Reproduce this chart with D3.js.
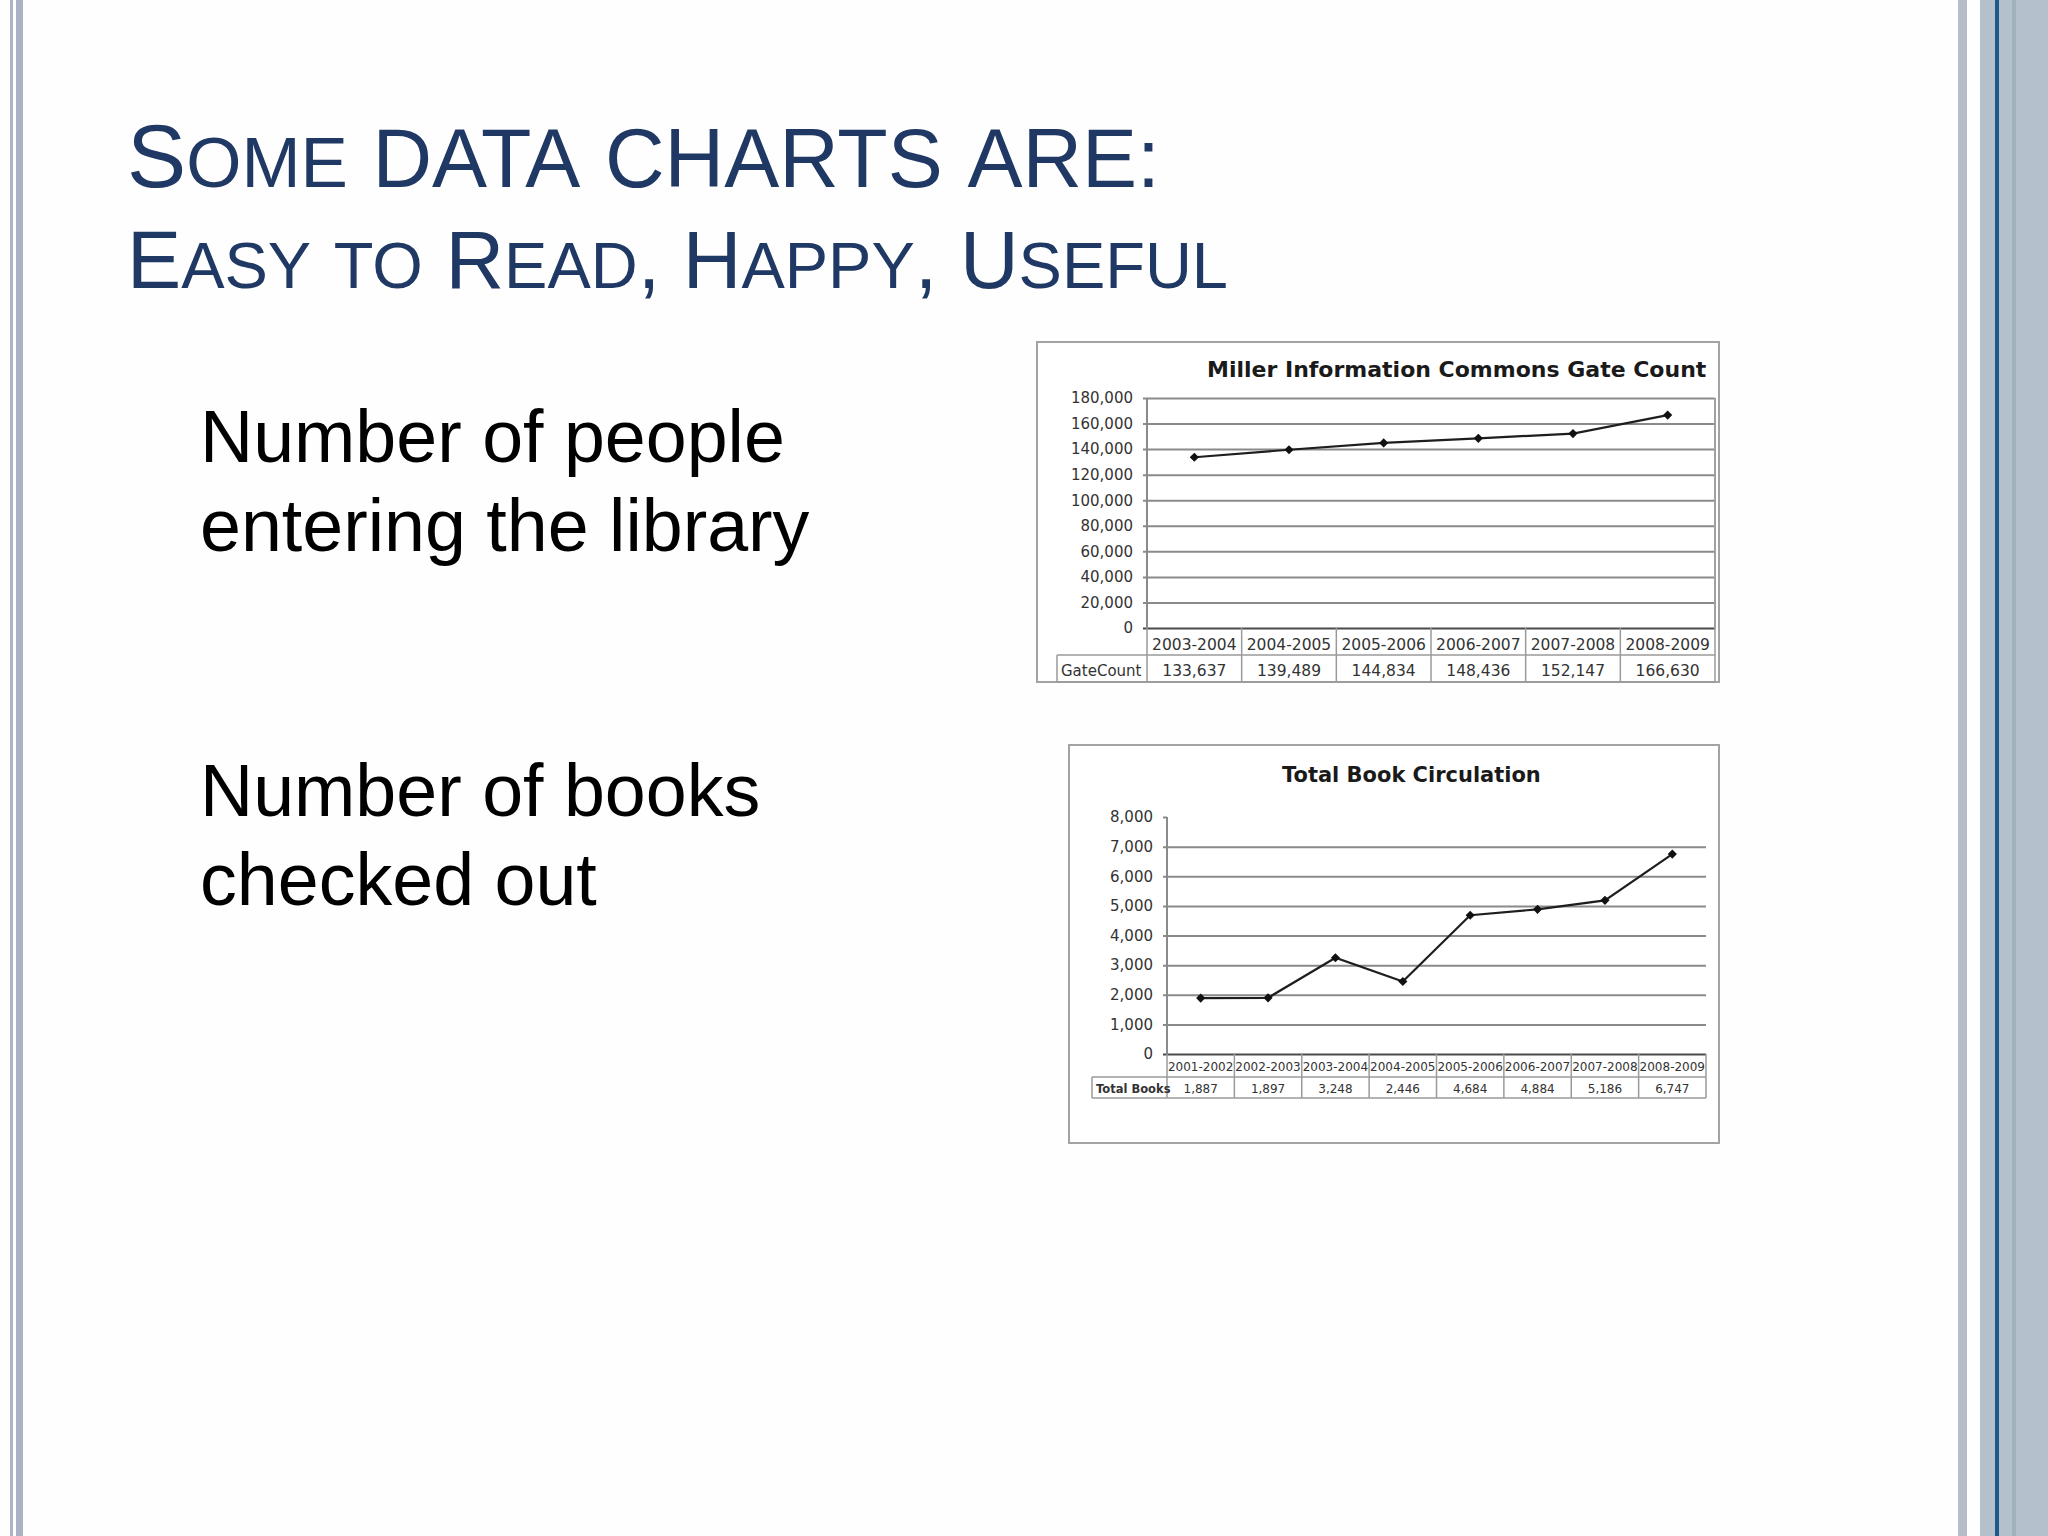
<!DOCTYPE html>
<html>
<head>
<meta charset="utf-8">
<script src="https://cdn.jsdelivr.net/npm/d3@7"></script>
<style>
  html, body { margin: 0; padding: 0; background: #fff; }
  svg { display: block; }
</style>
</head>
<body>
<div id="slide"></div>
<script>
// ---- slide text ----
const titleLines = ["Some DATA CHARTS ARE:", "Easy to Read, Happy, Useful"];
const bodyLines = ["Number of people", "entering the library", "Number of books", "checked out"];

// ---- chart 1: gate count ----
const gateTitle = "Miller Information Commons Gate Count";
const gateRowLabel = "GateCount";
const gateYears = ["2003-2004", "2004-2005", "2005-2006", "2006-2007", "2007-2008", "2008-2009"];
const gateCounts = [133637, 139489, 144834, 148436, 152147, 166630];
const gateTicks = [0, 20000, 40000, 60000, 80000, 100000, 120000, 140000, 160000, 180000];

// ---- chart 2: book circulation ----
const circTitle = "Total Book Circulation";
const circRowLabel = "Total Books";
const circYears = ["2001-2002", "2002-2003", "2003-2004", "2004-2005", "2005-2006", "2006-2007", "2007-2008", "2008-2009"];
const circCounts = [1887, 1897, 3248, 2446, 4684, 4884, 5186, 6747];
const circTicks = [0, 1000, 2000, 3000, 4000, 5000, 6000, 7000, 8000];

const W = 2048, H = 1536;

const svg = d3.select("#slide")
    .append("svg")
    .attr("width", W)
    .attr("height", H)
;

svg.append("rect")
    .attr("width", W)
    .attr("height", H)
    .attr("fill", "#fefefe");

// side stripes of the slide theme
const stripes = [
    {x: 10, w: 3, c: "#adb3c5"},
    {x: 16, w: 7, c: "#a9b1c3"},
    {x: 1958, w: 9, c: "#b7bdc8"},
    {x: 1980, w: 68, c: "#b4c1cd"},
    {x: 1995, w: 4, c: "#1f5a8c"},
    {x: 2012, w: 4, c: "#9fb1bc"}
];
svg.selectAll(".stripe")
    .data(stripes)
    .enter()
    .append("rect")
    .attr("class", "stripe")
    .attr("x", d => d.x)
    .attr("y", 0)
    .attr("width", d => d.w)
    .attr("height", H)
    .attr("fill", d => d.c);

// scale a text element so its width hits a target
function fitWidth(text, width) {
    const w = text.node().getBBox().width;
    const size = parseFloat(text.attr("font-size"));
    text.attr("font-size", size * width / w);
}

// ---- title, small caps built from tspans ----
const titleLayout = [
    {baseline: 187, width: 1033},
    {baseline: 288, width: 1101}
];
titleLines.forEach((line, i) => {
    // lowercase letters shrink (small caps); words typed in all caps sit a bit lower than initials
    const runs = [];
    line.split(/(\s+)/).forEach(word => {
        const allCaps = /[A-Z]{2,}/.test(word) && word === word.toUpperCase();
        for (const ch of word) {
            let size = ch === ch.toUpperCase() ? 1 : 0.8;
            if (allCaps) size = 0.93;
            const last = runs[runs.length - 1];
            if (last && last.size === size) last.text += ch;
            else runs.push({size: size, text: ch});
        }
    });
    const t = svg.append("text")
        .attr("x", 127)
        .attr("y", titleLayout[i].baseline)
        .attr("font-family", "Liberation Sans, Arial, sans-serif")
        .attr("font-size", 88)
        .attr("fill", "#1f3864")
        .style("white-space", "pre");
    t.selectAll("tspan")
        .data(runs)
        .enter()
        .append("tspan")
        .style("font-size", d => d.size + "em")
        .text(d => d.text.toUpperCase());
    fitWidth(t, titleLayout[i].width);
});

// ---- body text ----
const bodyBaselines = [462, 551, 816, 905];
const body = svg.selectAll(".body-text")
    .data(bodyLines)
    .enter()
    .append("text")
    .attr("class", "body-text")
    .attr("x", 200)
    .attr("y", (d, i) => bodyBaselines[i])
    .attr("font-family", "Liberation Sans, Arial, sans-serif")
    .attr("font-size", 74)
    .attr("fill", "#000")
    .text(d => d);
fitWidth(body.filter((d, i) => i === 0), 585);
body.attr("font-size", body.filter((d, i) => i === 0).attr("font-size"));

// ---- charts ----
function drawChart(cfg) {
    const p = cfg.plot;
    const g = svg.append("g").attr("class", cfg.id);
    const font = "DejaVu Sans, Verdana, sans-serif";
    const gridColor = "#8a8a8a";
    const labelColor = "#333";

    const x = d3.scaleBand()
        .domain(cfg.categories)
        .range([p.left, p.right]);
    const y = d3.scaleLinear()
        .domain([0, d3.max(cfg.ticks)])
        .range([p.bottom, p.top]);

    // picture frame
    g.append("rect")
        .attr("x", cfg.frame.left)
        .attr("y", cfg.frame.top)
        .attr("width", cfg.frame.right - cfg.frame.left)
        .attr("height", cfg.frame.bottom - cfg.frame.top)
        .attr("fill", "#fff")
        .attr("stroke", "#a3a3a3")
        .attr("stroke-width", 2);

    const title = g.append("text")
        .attr("x", cfg.titleX)
        .attr("y", cfg.titleY)
        .attr("font-family", font)
        .attr("font-weight", "bold")
        .attr("font-size", 20)
        .attr("fill", "#1a1a1a")
        .text(cfg.title);
    fitWidth(title, cfg.titleWidth);

    // y axis: gridlines reach a few px left of the axis like tick marks
    const out = 4;
    const yAxis = g.append("g")
        .attr("transform", `translate(${p.left - out}, 0)`)
        .call(d3.axisLeft(y)
            .tickValues(cfg.ticks)
            .tickFormat(d3.format(","))
            .tickSize(-(p.right - p.left + out))
            .tickPadding(10));
    yAxis.select(".domain").remove();
    yAxis.selectAll(".tick line")
        .attr("stroke", d => d === 0 ? "#4a4a4a" : gridColor)
        .attr("stroke-width", 2)
        .attr("x2", d => (d === d3.max(cfg.ticks) && !cfg.plotBorder) ? out : p.right - p.left + out);
    yAxis.selectAll(".tick text")
        .attr("font-family", font)
        .attr("font-size", cfg.yFont)
        .attr("fill", labelColor);

    // vertical axis line
    g.append("line")
        .attr("x1", p.left).attr("x2", p.left)
        .attr("y1", p.top).attr("y2", p.bottom)
        .attr("stroke", gridColor)
        .attr("stroke-width", 2);

    if (cfg.plotBorder) {
        g.append("line")
            .attr("x1", p.right).attr("x2", p.right)
            .attr("y1", p.top).attr("y2", p.bottom)
            .attr("stroke", "#a0a0a0")
            .attr("stroke-width", 2);
    }

    // data table under the plot
    const t = cfg.table;
    const bounds = cfg.categories.map(d => x(d)).concat([p.right]);
    g.selectAll(".sep")
        .data(bounds)
        .enter()
        .append("line")
        .attr("x1", d => d).attr("x2", d => d)
        .attr("y1", p.bottom).attr("y2", t.bottom)
        .attr("stroke", "#9a9a9a")
        .attr("stroke-width", 1.5);
    [t.top, t.bottom].forEach(yy => {
        g.append("line")
            .attr("x1", t.left).attr("x2", p.right)
            .attr("y1", yy).attr("y2", yy)
            .attr("stroke", "#9a9a9a")
            .attr("stroke-width", 1.5);
    });
    g.append("line")
        .attr("x1", t.left).attr("x2", t.left)
        .attr("y1", t.top).attr("y2", t.bottom)
        .attr("stroke", "#9a9a9a")
        .attr("stroke-width", 1.5);

    g.selectAll(".cat-label")
        .data(cfg.categories)
        .enter()
        .append("text")
        .attr("x", d => x(d) + x.bandwidth() / 2)
        .attr("y", cfg.catBaseline)
        .attr("text-anchor", "middle")
        .attr("font-family", font)
        .attr("font-size", cfg.catFont)
        .attr("fill", labelColor)
        .text(d => d);

    g.append("text")
        .attr("x", t.left + 4)
        .attr("y", cfg.valueBaseline)
        .attr("font-family", font)
        .attr("font-size", cfg.rowFont)
        .attr("font-weight", cfg.rowBold ? "bold" : "normal")
        .attr("fill", labelColor)
        .text(cfg.rowLabel);

    g.selectAll(".val-label")
        .data(cfg.values)
        .enter()
        .append("text")
        .attr("x", (d, i) => x(cfg.categories[i]) + x.bandwidth() / 2)
        .attr("y", cfg.valueBaseline)
        .attr("text-anchor", "middle")
        .attr("font-family", font)
        .attr("font-size", cfg.catFont)
        .attr("fill", labelColor)
        .text(d => d3.format(",")(d));

    // the series
    const pts = cfg.values.map((v, i) => ({cat: cfg.categories[i], value: v}));
    const line = d3.line()
        .x(d => x(d.cat) + x.bandwidth() / 2)
        .y(d => y(d.value));
    g.append("path")
        .datum(pts)
        .attr("d", line)
        .attr("fill", "none")
        .attr("stroke", "#1e1e1e")
        .attr("stroke-width", 2.2);
    // square markers turned 45 degrees
    g.selectAll(".marker")
        .data(pts)
        .enter()
        .append("path")
        .attr("transform", d => `translate(${x(d.cat) + x.bandwidth() / 2}, ${y(d.value)}) rotate(45)`)
        .attr("d", d3.symbol(d3.symbolSquare, 42))
        .attr("fill", "#111");
}

drawChart({
    id: "gate-chart",
    title: gateTitle,
    rowLabel: gateRowLabel,
    categories: gateYears,
    values: gateCounts,
    ticks: gateTicks,
    frame: {left: 1037, top: 342, right: 1719, bottom: 682},
    plot: {left: 1147, right: 1715, top: 398, bottom: 628},
    table: {left: 1057, top: 655, bottom: 682},
    plotBorder: true,
    titleX: 1207, titleY: 377, titleWidth: 500,
    yFont: 15, catFont: 15.5, rowFont: 15, rowBold: false,
    catBaseline: 650, valueBaseline: 676
});

drawChart({
    id: "circ-chart",
    title: circTitle,
    rowLabel: circRowLabel,
    categories: circYears,
    values: circCounts,
    ticks: circTicks,
    frame: {left: 1069, top: 745, right: 1719, bottom: 1143},
    plot: {left: 1167, right: 1706, top: 817, bottom: 1054},
    table: {left: 1092, top: 1077, bottom: 1098},
    plotBorder: false,
    titleX: 1282, titleY: 782, titleWidth: 259,
    yFont: 15, catFont: 12, rowFont: 11.5, rowBold: true,
    catBaseline: 1071, valueBaseline: 1093
});
</script>
</body>
</html>
